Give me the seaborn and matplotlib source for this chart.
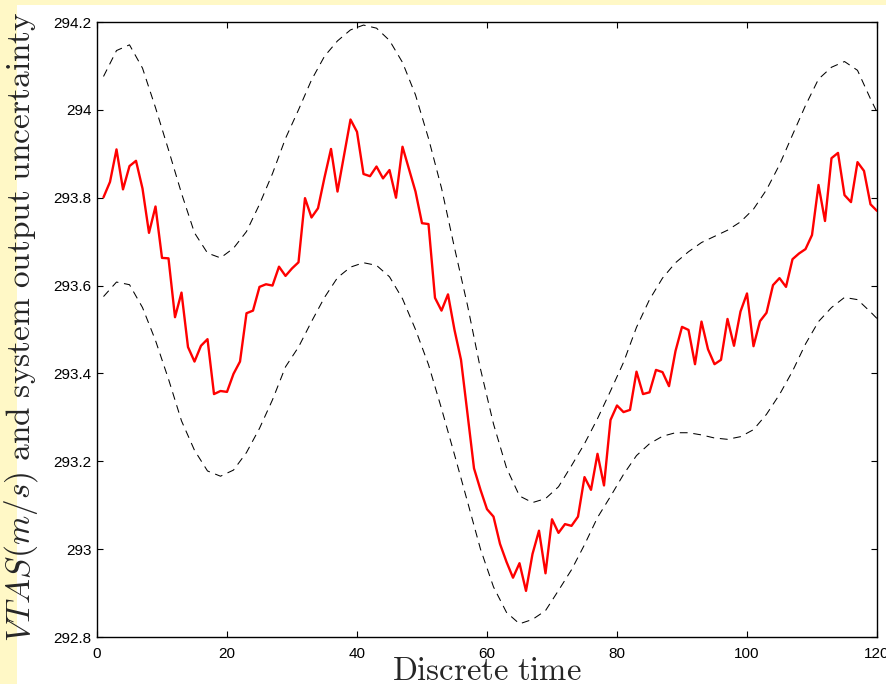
import matplotlib
matplotlib.use("Agg")
import matplotlib.pyplot as plt
from matplotlib.patches import Rectangle
from matplotlib.ticker import FuncFormatter
import numpy as np
import pandas as pd
import seaborn as sns

# Measured true airspeed, one sample per discrete time step (t = 1..120)
vtas = [
    293.801, 293.836, 293.910, 293.819, 293.872, 293.884, 293.821, 293.720, 293.780, 293.663,
    293.662, 293.528, 293.584, 293.460, 293.427, 293.463, 293.478, 293.353, 293.360, 293.358,
    293.399, 293.427, 293.537, 293.543, 293.597, 293.603, 293.600, 293.643, 293.622, 293.639,
    293.653, 293.799, 293.755, 293.776, 293.846, 293.911, 293.814, 293.896, 293.978, 293.950,
    293.854, 293.849, 293.871, 293.844, 293.863, 293.800, 293.916, 293.865, 293.814, 293.742,
    293.740, 293.572, 293.543, 293.580, 293.499, 293.431, 293.308, 293.184, 293.135, 293.091,
    293.074, 293.012, 292.971, 292.935, 292.968, 292.905, 292.989, 293.042, 292.945, 293.068,
    293.037, 293.057, 293.053, 293.074, 293.164, 293.135, 293.217, 293.145, 293.294, 293.327,
    293.312, 293.317, 293.404, 293.353, 293.357, 293.408, 293.403, 293.371, 293.451, 293.506,
    293.499, 293.421, 293.518, 293.455, 293.421, 293.431, 293.524, 293.463, 293.541, 293.582,
    293.462, 293.519, 293.538, 293.601, 293.617, 293.597, 293.660, 293.673, 293.683, 293.715,
    293.829, 293.747, 293.890, 293.902, 293.806, 293.790, 293.881, 293.861, 293.785, 293.770,
]
time = list(range(1, 121))

# Uncertainty band of the system output
band_time = list(range(1, 121, 2)) + [120]
upper = [
    294.076, 294.135, 294.148, 294.095, 294.005, 293.909, 293.810, 293.720, 293.674, 293.663,
    293.685, 293.723, 293.785, 293.855, 293.935, 294.000, 294.068, 294.122, 294.157, 294.182,
    294.193, 294.186, 294.158, 294.108, 294.034, 293.935, 293.822, 293.686, 293.555, 293.410,
    293.285, 293.185, 293.121, 293.106, 293.115, 293.142, 293.190, 293.240, 293.297, 293.360,
    293.425, 293.505, 293.568, 293.617, 293.652, 293.677, 293.698, 293.712, 293.726, 293.745,
    293.774, 293.818, 293.875, 293.943, 294.010, 294.070, 294.097, 294.110, 294.090, 294.025,
    293.995,
]
lower = [
    293.575, 293.608, 293.602, 293.550, 293.475, 293.387, 293.292, 293.225, 293.178, 293.166,
    293.180, 293.220, 293.275, 293.340, 293.415, 293.460, 293.518, 293.573, 293.618, 293.642,
    293.652, 293.646, 293.620, 293.570, 293.500, 293.420, 293.320, 293.215, 293.108, 293.000,
    292.914, 292.856, 292.830, 292.840, 292.860, 292.906, 292.953, 293.010, 293.072, 293.120,
    293.170, 293.213, 293.240, 293.257, 293.265, 293.265, 293.260, 293.253, 293.250, 293.256,
    293.272, 293.307, 293.352, 293.405, 293.467, 293.518, 293.550, 293.573, 293.568, 293.540,
    293.525,
]

x_ticks = [0, 20, 40, 60, 80, 100, 120]
y_ticks = [292.8, 293.0, 293.2, 293.4, 293.6, 293.8, 294.0, 294.2]

sns.set_style("ticks")
plt.rcParams["font.family"] = ["Liberation Sans", "DejaVu Sans"]
plt.rcParams["mathtext.fontset"] = "cm"

W, H = 887, 684
fig = plt.figure(figsize=(W / 100, H / 100), dpi=100)
fig.patch.set_facecolor("white")

# pale yellow page margin along the top and left edges
pale = "#fff8c6"
fig.patches.append(Rectangle((0, 0), 17 / W, 1, transform=fig.transFigure,
                             facecolor=pale, edgecolor="none", zorder=-5))
fig.patches.append(Rectangle((0, 1 - 5 / H), 1, 5 / H, transform=fig.transFigure,
                             facecolor=pale, edgecolor="none", zorder=-5))

ax = fig.add_axes([97 / W, 1 - 637 / H, 780 / W, 615 / H])
ax.set_facecolor("white")

meas = pd.DataFrame({"t": time, "v": vtas})
band = pd.DataFrame({"t": band_time, "upper": upper, "lower": lower})

dash = (0, (7.5, 5.5))
sns.lineplot(data=band, x="t", y="upper", ax=ax, color="black", lw=0.75,
             linestyle=dash, zorder=2)
sns.lineplot(data=band, x="t", y="lower", ax=ax, color="black", lw=0.75,
             linestyle=dash, zorder=2)
sns.lineplot(data=meas, x="t", y="v", ax=ax, color="#ff0000", lw=1.7, zorder=3)

ax.set_xlim(0, 120)
ax.set_ylim(292.8, 294.2)
ax.set_xticks(x_ticks)
ax.set_yticks(y_ticks)
ax.yaxis.set_major_formatter(FuncFormatter(lambda v, p: f"{v:g}"))
ax.xaxis.set_major_formatter(FuncFormatter(lambda v, p: f"{v:g}"))
ax.tick_params(direction="in", length=4, width=0.8, top=True, right=True,
               labelsize=11, colors="black")
ax.tick_params(axis="y", pad=4)
ax.tick_params(axis="x", pad=7)
for s in ax.spines.values():
    s.set_visible(True)
    s.set_linewidth(1.0)
    s.set_color("black")
ax.set_xlabel("")
ax.set_ylabel("")

fig.text(21 / W, 1 - 327 / H,
         r"$VTAS(m/s)\ \mathrm{and\ system\ output\ uncertainty}$",
         rotation=90, ha="center", va="center", fontsize=24)
fig.text(487 / W, 1 - 680 / H, r"$\mathrm{Discrete\ time}$",
         ha="center", va="baseline", fontsize=23.5)

fig.savefig("out.png", dpi=100, facecolor=fig.get_facecolor())
